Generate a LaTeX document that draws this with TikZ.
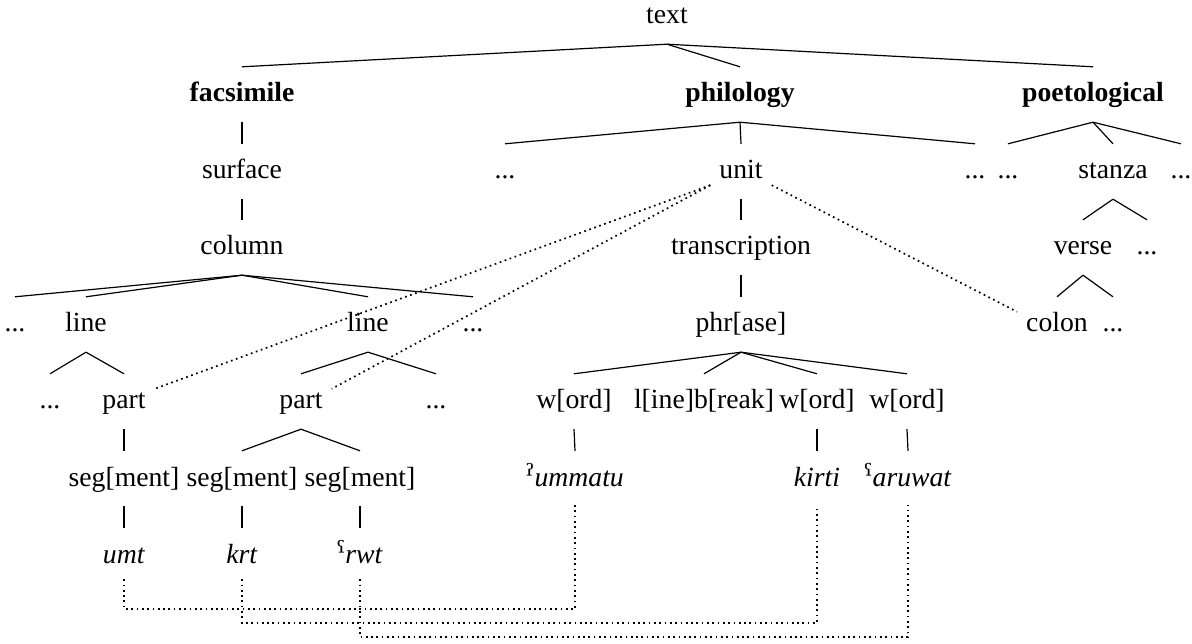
\documentclass[tikz,border=0pt]{standalone}
\usepackage{fontspec}
\setmainfont{Liberation Serif}
\newfontfamily\ipafont{DejaVu Serif}
\usetikzlibrary{calc}
% raised glottal stop and ayin
\newcommand\glot{{\ipafont\fontsize{30}{30}\selectfont ˀ}}
\newcommand\ayin{{\ipafont\fontsize{30}{30}\selectfont ˁ}}

\begin{document}
\begin{tikzpicture}[x=1pt,y=-1pt,
  every node/.style={font=\fontsize{27.7}{33}\selectfont, inner xsep=9pt,
    inner ysep=0pt, text height=20pt, text depth=6pt},
  hd/.style={font=\fontsize{27.7}{33}\selectfont\bfseries},
  br/.style={line width=1.2pt},
  dots/.style={line width=1.7pt, dash pattern=on 1.7pt off 3.6pt},
]
\useasboundingbox (0,0) rectangle (1192,644);

% ---- top levels
\node (root) at (667,17) {text};
\node[hd] (fac) at (242,95) {facsimile};
\node[hd] (phil) at (740,95) {philology};
\node[hd] (poet) at (1093,95) {poetological};

\node (surf) at (242,172) {surface};
\node (pdA) at (505,172) {...};
\node (unit) at (741,172) {unit};
\node (pdB) at (975,172) {...};
\node (qdA) at (1008,172) {...};
\node (stanza) at (1113,172) {stanza};
\node (qdB) at (1181,172) {...};

\node (col) at (242,248) {column};
\node (trans) at (741,248) {transcription};
\node (verse) at (1083,248) {verse};
\node (vd) at (1147,248) {...};

\node (cdA) at (15,325) {...};
\node (lineA) at (86,325) {line};
\node (lineB) at (368,325) {line};
\node (cdB) at (473,325) {...};
\node (phr) at (741,325) {phr[ase]};
\node (colon) at (1057,325) {colon};
\node (cold) at (1113,325) {...};

\node (ldA) at (50,402) {...};
\node (partA) at (124,402) {part};
\node (partB) at (301,402) {part};
\node (ldB) at (436,402) {...};
\node (wA) at (574,402) {w[ord]};
\node (lb) at (704,402) {l[ine]b[reak]};
\node (wB) at (817,402) {w[ord]};
\node (wC) at (907,402) {w[ord]};

\node (segA) at (124,479) {seg[ment]};
\node (segB) at (242,479) {seg[ment]};
\node (segC) at (360,479) {seg[ment]};
\node (ummatu) at (575,479) {\glot\textit{ummatu}};
\node (kirti) at (817,479) {\textit{kirti}};
\node (aruwat) at (908,479) {\ayin\textit{aruwat}};

\node (umt) at (124,556) {\textit{umt}};
\node (krt) at (242,556) {\textit{krt}};
\node (rwt) at (360,556) {\ayin\textit{rwt}};

% ---- tree branches
\foreach \p/\c in {root/fac, root/phil, root/poet,
    fac/surf, surf/col,
    col/cdA, col/lineA, col/lineB, col/cdB,
    lineA/ldA, lineA/partA, lineB/partB, lineB/ldB,
    partA/segA, partB/segB, partB/segC,
    segA/umt, segB/krt, segC/rwt,
    phil/pdA, phil/unit, phil/pdB,
    unit/trans, trans/phr,
    phr/wA, phr/lb, phr/wB, phr/wC,
    wA/ummatu, wB/kirti, wC/aruwat,
    poet/qdA, poet/stanza, poet/qdB,
    stanza/verse, stanza/vd,
    verse/colon, verse/cold}
  \draw[br] ([yshift=-14pt]\p.south) -- ([yshift=15pt]\c.north);

% ---- cross links between the layers
\draw[dots] (unit.south west) -- (partA.north east);
\draw[dots] (unit.south west) -- (partB.north east);
\draw[dots] (unit.south east) -- (colon.north west);

\coordinate (hA) at (350,609);
\coordinate (hB) at (500,623);
\coordinate (hC) at (600,637);
\draw[dots] ([yshift=-10pt]umt.south) |- (hA) -| ([yshift=-13pt]ummatu.south);
\draw[dots] ([yshift=-10pt]krt.south) |- (hB) -| ([yshift=-13pt]kirti.south);
\draw[dots] ([yshift=-10pt]rwt.south) |- (hC) -| ([yshift=-13pt]aruwat.south);
\end{tikzpicture}
\end{document}
